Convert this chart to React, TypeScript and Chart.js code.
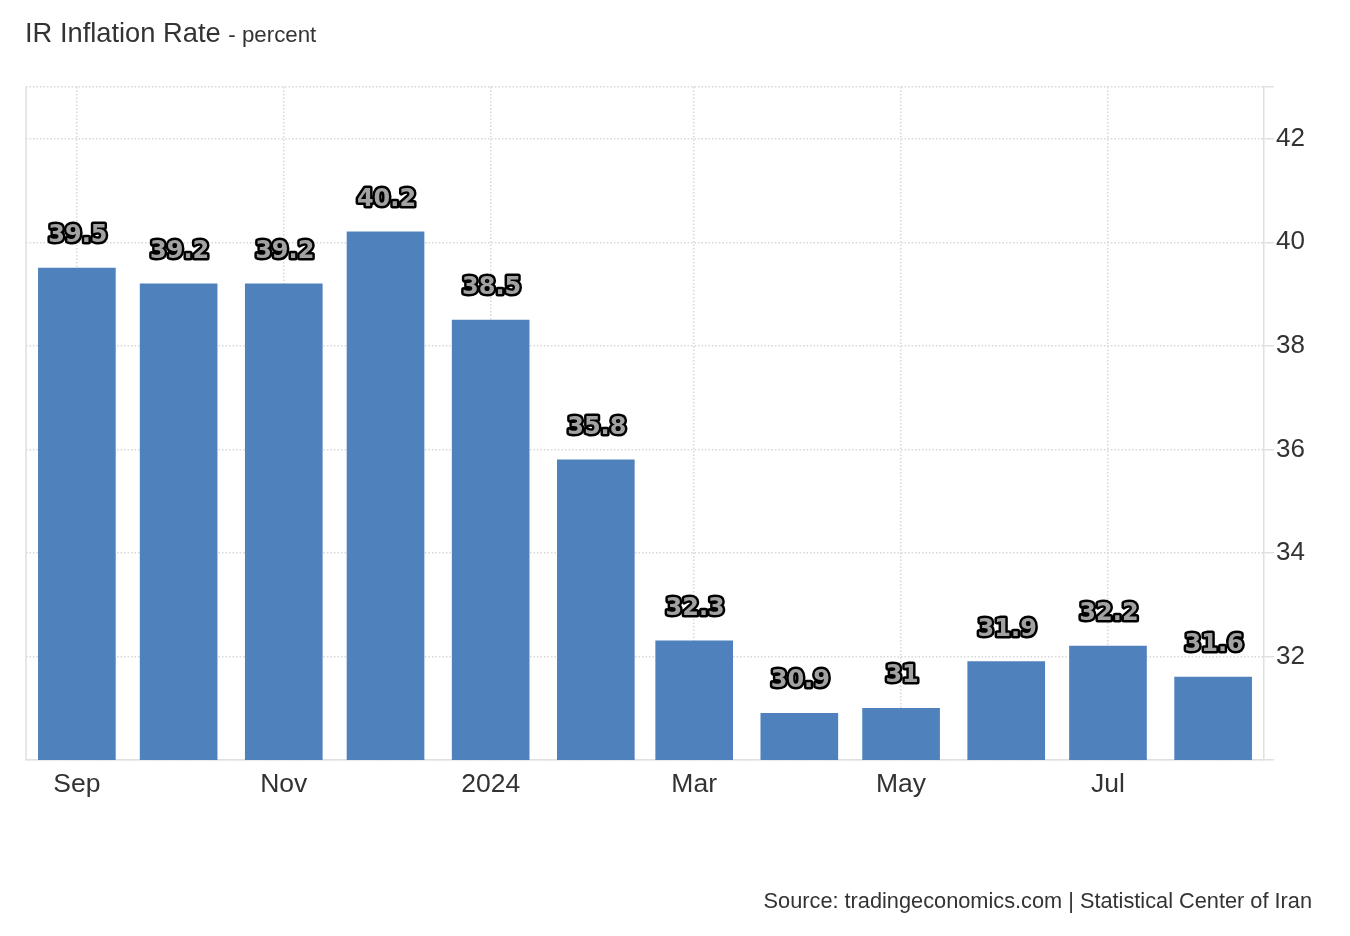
import React, { useEffect, useRef } from 'react';
import { Chart, registerables } from 'chart.js';

Chart.register(...registerables);

// ---- data ----
const months = [
  '2023-09-01', '2023-10-01', '2023-11-01', '2023-12-01',
  '2024-01-01', '2024-02-01', '2024-03-01', '2024-04-01',
  '2024-05-01', '2024-06-01', '2024-07-01', '2024-08-01',
];
const inflation = [39.5, 39.2, 39.2, 40.2, 38.5, 35.8, 32.3, 30.9, 31, 31.9, 32.2, 31.6];
const tickDates = ['2023-09-01', '2023-11-01', '2024-01-01', '2024-03-01', '2024-05-01', '2024-07-01'];
const tickLabels = ['Sep', 'Nov', '2024', 'Mar', 'May', 'Jul'];
const axisRange = ['2023-08-17', '2024-08-16'];
const yTicks = [30, 32, 34, 36, 38, 40, 42, 43];
const yLabelled = [32, 34, 36, 38, 40, 42];
const valueRange = [30, 43];

const DAY = 86400000;
const ORIGIN = Date.UTC(2023, 8, 1);
const dayOf = (s: string) => {
  const [y, m, d] = s.split('-').map(Number);
  return (Date.UTC(y, m - 1, d) - ORIGIN) / DAY;
};

const GRID = '#d8d8d8';
const AXIS = '#e0e0e0';
const TEXT = '#333333';

const valueLabels = {
  id: 'valueLabels',
  afterDatasetsDraw(chart: any) {
    const ctx = chart.ctx;
    const meta = chart.getDatasetMeta(0);
    ctx.save();
    ctx.font = 'bold 24px "DejaVu Sans"';
    ctx.textAlign = 'center';
    ctx.textBaseline = 'alphabetic';
    ctx.lineJoin = 'round';
    ctx.lineWidth = 5;
    ctx.strokeStyle = '#000000';
    ctx.fillStyle = '#a2a2a2';
    meta.data.forEach((bar: any, i: number) => {
      const t = String(inflation[i]);
      ctx.strokeText(t, bar.x + 1, bar.y - 26);
      ctx.fillText(t, bar.x + 1, bar.y - 26);
    });
    ctx.restore();
  },
};

const leftBorder = {
  id: 'leftBorder',
  beforeDatasetsDraw(chart: any) {
    const { ctx, chartArea } = chart;
    ctx.save();
    ctx.strokeStyle = AXIS;
    ctx.lineWidth = 1.5;
    ctx.beginPath();
    ctx.moveTo(chartArea.left, chartArea.top);
    ctx.lineTo(chartArea.left, chartArea.bottom);
    ctx.stroke();
    ctx.restore();
  },
};

export default function App() {
  const ref = useRef<HTMLCanvasElement | null>(null);

  useEffect(() => {
    if (!ref.current) return;
    const chart = new Chart(ref.current, {
      type: 'bar',
      data: {
        datasets: [
          {
            data: months.map((m, i) => ({ x: dayOf(m), y: inflation[i] })),
            backgroundColor: '#4f81bd',
            borderWidth: 0,
            barThickness: 77,
          } as any,
        ],
      },
      options: {
        animation: false,
        responsive: false,
        devicePixelRatio: 1,
        layout: { padding: { left: 26, top: 87, right: 0, bottom: 0 } },
        plugins: { legend: { display: false }, tooltip: { enabled: false } },
        scales: {
          x: {
            type: 'linear',
            offset: false,
            min: dayOf(axisRange[0]),
            max: dayOf(axisRange[1]),
            afterBuildTicks: (scale: any) => {
              scale.ticks = tickDates.map((d) => ({ value: dayOf(d) }));
            },
            afterFit: (scale: any) => {
              scale.height = 176;
            },
            grid: {
              offset: false,
              color: GRID,
              lineWidth: 1.5,
              drawTicks: false,
              borderDash: [1.5, 2],
            } as any,
            border: { display: true, color: AXIS, width: 1.5, dash: [1.5, 2] } as any,
            ticks: {
              autoSkip: false,
              maxRotation: 0,
              padding: 9,
              color: TEXT,
              font: { family: '"Liberation Sans", Arial, sans-serif', size: 26.5 },
              callback: (value: any) => {
                const i = tickDates.findIndex((d) => dayOf(d) === value);
                return i >= 0 ? tickLabels[i] : '';
              },
            },
          },
          y: {
            type: 'linear',
            position: 'right',
            min: valueRange[0],
            max: valueRange[1],
            afterBuildTicks: (scale: any) => {
              scale.ticks = yTicks.map((v) => ({ value: v }));
            },
            afterFit: (scale: any) => {
              scale.width = 86;
            },
            grid: {
              color: GRID,
              lineWidth: 1.5,
              drawTicks: true,
              tickLength: 10,
              tickColor: AXIS,
              tickWidth: 1.5,
              tickBorderDash: [],
              borderDash: [1.5, 2],
            } as any,
            border: { display: true, color: AXIS, width: 1.5, dash: [1.5, 2] } as any,
            ticks: {
              padding: 2,
              color: TEXT,
              font: { family: '"Liberation Sans", Arial, sans-serif', size: 26 },
              callback: (value: any) => (yLabelled.includes(value) ? String(value) : ''),
            },
          },
        },
      },
      plugins: [leftBorder, valueLabels],
    });
    return () => chart.destroy();
  }, []);

  return (
    <div
      style={{
        position: 'absolute',
        left: 0,
        top: 0,
        width: 1350,
        height: 936,
        background: '#ffffff',
        fontFamily: '"Liberation Sans", Arial, sans-serif',
        color: TEXT,
        overflow: 'hidden',
      }}
    >
      <canvas
        ref={ref}
        width={1350}
        height={936}
        style={{ position: 'absolute', left: 0, top: 0, width: 1350, height: 936 }}
      />
      <div
        style={{
          position: 'absolute',
          left: 25,
          top: 19,
          fontSize: 27.3,
          lineHeight: 1,
          whiteSpace: 'nowrap',
        }}
      >
        IR Inflation Rate <span style={{ fontSize: 22.3 }}>- percent</span>
      </div>
      <div
        style={{
          position: 'absolute',
          right: 38,
          top: 890,
          fontSize: 21.75,
          lineHeight: 1,
          whiteSpace: 'nowrap',
        }}
      >
        Source: tradingeconomics.com | Statistical Center of Iran
      </div>
    </div>
  );
}
